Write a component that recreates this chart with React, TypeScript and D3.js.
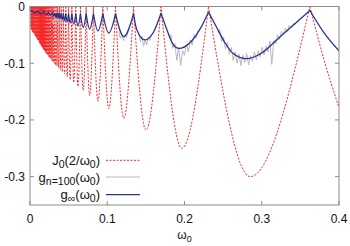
import React from "react";
import * as d3 from "d3";

const redZeros = [
  0.001, 0.0016, 0.0022, 0.0028, 0.0034, 0.004, 0.0046, 0.0052, 0.0058, 0.0064,
  0.007, 0.0076, 0.0082, 0.0088, 0.0094, 0.01, 0.0107, 0.0114, 0.0121, 0.0128,
  0.0131, 0.0133, 0.0136, 0.0139, 0.0142, 0.0146, 0.0149, 0.0152, 0.0156, 0.016,
  0.0164, 0.0169, 0.0173, 0.0178, 0.0183, 0.0189, 0.0194, 0.0201, 0.0207, 0.0214,
  0.0221, 0.0229, 0.0238, 0.0247, 0.0257, 0.0268, 0.028, 0.0293, 0.0307, 0.0322,
  0.034, 0.0359, 0.038, 0.0404, 0.0432, 0.0463, 0.0499, 0.0542, 0.0592, 0.0653,
  0.0727, 0.0821, 0.0943, 0.1107, 0.134, 0.1696, 0.2311, 0.3623,
];
// bottom of each red lobe
const redDipX = [
  0.0013, 0.0019, 0.0025, 0.0031, 0.0037, 0.0043, 0.0049, 0.0055, 0.0061, 0.0067,
  0.0073, 0.0079, 0.0085, 0.0091, 0.0097, 0.0103, 0.011, 0.0117, 0.0124, 0.013,
  0.0132, 0.0135, 0.0138, 0.0141, 0.0144, 0.0147, 0.0151, 0.0154, 0.0158, 0.0162,
  0.0166, 0.0171, 0.0176, 0.0181, 0.0186, 0.0191, 0.0198, 0.0204, 0.021, 0.0218,
  0.0225, 0.0234, 0.0243, 0.0252, 0.0263, 0.0274, 0.0286, 0.03, 0.0314, 0.0331,
  0.0349, 0.0369, 0.0392, 0.0418, 0.0447, 0.0481, 0.052, 0.0566, 0.0621, 0.0689,
  0.0772, 0.0879, 0.102, 0.1214, 0.1501, 0.1966, 0.2851,
];
const redDipY = [
  -0.04, -0.041, -0.042, -0.044, -0.045, -0.046, -0.047, -0.048, -0.05, -0.051,
  -0.052, -0.054, -0.055, -0.056, -0.058, -0.059, -0.06, -0.062, -0.064, -0.065,
  -0.065, -0.066, -0.066, -0.067, -0.068, -0.069, -0.069, -0.07, -0.071, -0.072,
  -0.073, -0.074, -0.075, -0.076, -0.077, -0.078, -0.079, -0.081, -0.082, -0.083,
  -0.085, -0.086, -0.088, -0.09, -0.091, -0.093, -0.096, -0.098, -0.1, -0.103,
  -0.105, -0.108, -0.112, -0.115, -0.119, -0.124, -0.129, -0.134, -0.141, -0.148,
  -0.157, -0.167, -0.18, -0.197, -0.218, -0.25, -0.3,
];
const redTailX = [0.38, 0.4];
const redTailY = [-0.091, -0.178];

// g_inf
const blueX = [
  0, 0.006, 0.01, 0.014, 0.018, 0.021, 0.024, 0.0265, 0.0293, 0.0307,
  0.0322, 0.0331, 0.034, 0.0349, 0.0359, 0.0369, 0.038, 0.0392, 0.0404, 0.0418,
  0.0432, 0.0447, 0.0463, 0.0481, 0.0499, 0.052, 0.0542, 0.0566, 0.0592, 0.0621,
  0.0653, 0.0689, 0.0727, 0.0772, 0.0821, 0.0879, 0.0943, 0.102, 0.1107, 0.1214,
  0.134, 0.138, 0.149, 0.16, 0.1696, 0.177, 0.184, 0.193, 0.207, 0.22,
  0.2311, 0.242, 0.252, 0.263, 0.28, 0.3, 0.32, 0.34, 0.3623, 0.38, 0.4,
];
const blueY = [
  -0.006, -0.011, -0.008, -0.013, -0.009, -0.014, -0.01, -0.015, -0.011, -0.017,
  -0.012, -0.018, -0.012, -0.019, -0.012, -0.02, -0.012, -0.021, -0.012, -0.023,
  -0.013, -0.025, -0.013, -0.027, -0.013, -0.029, -0.013, -0.031, -0.013, -0.034,
  -0.013, -0.037, -0.013, -0.04, -0.013, -0.043, -0.013, -0.047, -0.013, -0.053,
  -0.013, -0.04, -0.059, -0.045, -0.012, -0.04, -0.064, -0.074, -0.064, -0.04,
  -0.01, -0.038, -0.063, -0.083, -0.092, -0.082, -0.058, -0.034, -0.007, -0.045, -0.078,
];

// g_{n=100}: only the noisy stretches that show from under g_inf (null = gap)
const grayX = [
  0.028, 0.03, 0.032, 0.034, 0.036, 0.038, 0.04, null,
  0.115, 0.117, 0.119, 0.121, 0.123, 0.125, 0.127, null,
  0.141, 0.143, 0.145, 0.147, 0.149, 0.151, 0.153, 0.155, 0.157, null,
  0.18, 0.1825, 0.185, 0.1875, 0.19, 0.1925, 0.195, 0.1975, 0.2, 0.2025,
  0.205, 0.2075, 0.21, 0.2125, 0.215, 0.2175, null,
  0.243, 0.2455, 0.248, 0.2505, 0.253, 0.2555, 0.258, 0.2605, 0.263, 0.2655,
  0.268, 0.2705, 0.273, 0.2755, 0.278, 0.2805, 0.283, 0.2855, 0.288, 0.2905,
  0.293, 0.2955, 0.298, 0.3005, 0.303, 0.3055, 0.308, 0.3105, 0.313, 0.3155,
  0.318, 0.3205, 0.323, 0.3255, 0.328, 0.3305, 0.333, 0.3355, 0.338, 0.341, 0.344,
];
const grayY = [
  -0.022, -0.03, -0.02, -0.032, -0.022, -0.03, -0.024, null,
  -0.045, -0.056, -0.049, -0.06, -0.05, -0.055, -0.044, null,
  -0.05, -0.062, -0.052, -0.07, -0.058, -0.068, -0.054, -0.06, -0.048, null,
  -0.055, -0.05, -0.074, -0.065, -0.095, -0.072, -0.104, -0.078, -0.086, -0.066,
  -0.08, -0.059, -0.068, -0.05, -0.056, -0.043, null,
  -0.045, -0.04, -0.062, -0.054, -0.075, -0.063, -0.084, -0.072, -0.095, -0.08,
  -0.1, -0.084, -0.104, -0.086, -0.099, -0.083, -0.103, -0.087, -0.097, -0.08,
  -0.094, -0.078, -0.089, -0.072, -0.085, -0.07, -0.08, -0.061, -0.102, -0.06,
  -0.066, -0.05, -0.058, -0.044, -0.05, -0.038, -0.044, -0.033, -0.038, -0.03, -0.031,
];

const xTicks = [0, 0.1, 0.2, 0.3, 0.4];
const xTickLabels = ["0", "0.1", "0.2", "0.3", "0.4"];
const yTicks = [0, -0.1, -0.2, -0.3];
const yTickLabels = ["0", "-0.1", "-0.2", "-0.3"];

const W = 350;
const H = 246;
const L = 30, R = 339, T = 6.5, B = 205;
const FONT = "'Liberation Sans', Arial, sans-serif";
const RED = "#f42a2a";
const BLUE = "#27358f";
const GRAY = "#b8b8b8";
const RED_DASH = "2 1.5";

type Pt = [number, number];

// break a polyline at its sharp tops so every lobe gets its own smooth curve
function splitAtPeaks(pts: Pt[]): Pt[][] {
  const segs: Pt[][] = [];
  let cur: Pt[] = [pts[0]];
  for (let i = 1; i < pts.length; i++) {
    cur.push(pts[i]);
    const peak =
      i < pts.length - 1 && pts[i][1] >= pts[i - 1][1] && pts[i][1] >= pts[i + 1][1];
    if (peak) {
      segs.push(cur);
      cur = [pts[i]];
    }
  }
  if (cur.length > 1) segs.push(cur);
  return segs;
}

export default function App() {
  const x = d3.scaleLinear().domain([0, 0.4]).range([L, R]);
  const y = d3.scaleLinear().domain([-0.35, 0]).range([B, T]);

  const redPts: Pt[] = [];
  redZeros.forEach((z, i) => {
    redPts.push([z, 0]);
    if (i < redDipX.length) redPts.push([redDipX[i], redDipY[i]]);
  });
  redTailX.forEach((v, i) => redPts.push([v, redTailY[i]]));

  const bluePts: Pt[] = blueX.map((v, i) => [v, blueY[i]]);
  const grayPts = grayX.map((v, i) => [v, grayY[i]] as [number | null, number | null]);

  const lobe = d3
    .line<Pt>()
    .x((d) => x(d[0]))
    .y((d) => y(d[1]))
    .curve(d3.curveMonotoneX);

  const redD = splitAtPeaks(redPts).map((s) => lobe(s)).join("");
  const blueD = splitAtPeaks(bluePts).map((s) => lobe(s)).join("");

  const grayLine = d3
    .line<[number | null, number | null]>()
    .defined((d) => d[0] != null && d[1] != null)
    .x((d) => x(d[0] as number))
    .y((d) => y(d[1] as number));

  const legend = [
    { key: "J", sub: "0", tail: "(2/ω", sub2: "0", end: ")", color: RED, dash: RED_DASH, w: 1 },
    { key: "g", sub: "n=100", tail: "(ω", sub2: "0", end: ")", color: GRAY, dash: "", w: 1 },
    { key: "g", sub: "∞", tail: "(ω", sub2: "0", end: ")", color: BLUE, dash: "", w: 1.3 },
  ];
  const legendY = [160.3, 177, 194.7];

  return (
    <svg
      width={W}
      height={H}
      style={{ position: "absolute", left: 0, top: 0, background: "#fff" }}
      fontFamily={FONT}
    >
      <defs>
        <clipPath id="plot">
          <rect x={L} y={T} width={R - L} height={B - T} />
        </clipPath>
      </defs>

      <g clipPath="url(#plot)">
        <path d={redD} fill="none" stroke={RED} strokeWidth={1} strokeDasharray={RED_DASH} />
        <path d={grayLine(grayPts) ?? ""} fill="none" stroke={GRAY} strokeWidth={1} />
        <path
          d={blueD}
          fill="none"
          stroke={BLUE}
          strokeWidth={1.3}
          strokeLinecap="round"
          strokeLinejoin="round"
        />
      </g>

      {/* frame and mirrored inward ticks */}
      <rect x={L} y={T} width={R - L} height={B - T} fill="none" stroke="#8c8c8c" strokeWidth={1} />
      {xTicks.map((v, i) => (
        <g key={"x" + i}>
          <line x1={x(v)} x2={x(v)} y1={B} y2={B - 4} stroke="#8c8c8c" />
          <line x1={x(v)} x2={x(v)} y1={T} y2={T + 4} stroke="#8c8c8c" />
          <text x={x(v)} y={223} textAnchor="middle" fontSize={12} fill="#111">
            {xTickLabels[i]}
          </text>
        </g>
      ))}
      {yTicks.map((v, i) => (
        <g key={"y" + i}>
          <line x1={L} x2={L + 4} y1={y(v)} y2={y(v)} stroke="#8c8c8c" />
          <line x1={R} x2={R - 4} y1={y(v)} y2={y(v)} stroke="#8c8c8c" />
          <text x={25} y={y(v) + 4.3} textAnchor="end" fontSize={12} fill="#111">
            {yTickLabels[i]}
          </text>
        </g>
      ))}

      <text x={(L + R) / 2} y={239} textAnchor="middle" fontSize={12} fill="#111">
        ω<tspan fontSize={9} dy={3}>0</tspan>
      </text>

      {legend.map((d, i) => (
        <g key={"l" + i}>
          <text x={100} y={legendY[i] + 4.5} textAnchor="end" fontSize={13} fill="#111">
            {d.key}
            <tspan fontSize={10.5} dy={3}>{d.sub}</tspan>
            <tspan dy={-3}>{d.tail}</tspan>
            <tspan fontSize={10.5} dy={3}>{d.sub2}</tspan>
            <tspan dy={-3}>{d.end}</tspan>
          </text>
          <line
            x1={106}
            x2={140}
            y1={legendY[i]}
            y2={legendY[i]}
            stroke={d.color}
            strokeWidth={d.w}
            strokeDasharray={d.dash || undefined}
          />
        </g>
      ))}
    </svg>
  );
}
